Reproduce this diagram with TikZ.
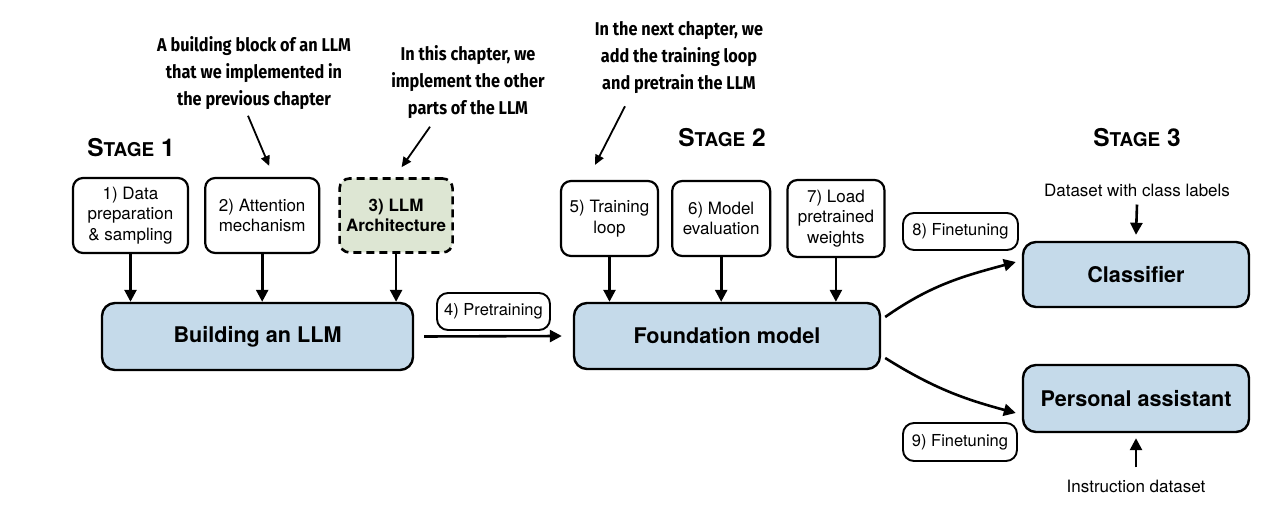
\documentclass[tikz,border=0pt]{standalone}
\usepackage{fontspec}
\setmainfont{TeX Gyre Heros}
\newfontfamily\notefont[FakeStretch=0.88]{Fira Sans}
\usepackage{tikz}
\usetikzlibrary{positioning, arrows.meta}

\definecolor{llmblue}{RGB}{197,218,234}
\definecolor{archgreen}{RGB}{221,230,211}
\newcommand{\stagename}[1]{S{\fontsize{19}{19}\selectfont TAGE} #1}

\begin{document}
\begin{tikzpicture}[
        x = 1pt, y = -1pt,
        every node/.style = {
            align = center,
            inner sep = 2pt
        },
        stepbox/.style = {
            draw,
            line width = 2.2pt,
            rounded corners = 10pt,
            fill = white,
            inner sep = 0pt,
            font = \fontsize{17}{20.5}\selectfont
        },
        archbox/.style = {
            stepbox,
            dash pattern = on 8pt off 5pt,
            line width = 2.6pt,
            fill = archgreen,
            font = \fontsize{17}{20.5}\selectfont\bfseries
        },
        modelbox/.style = {
            draw,
            line width = 2.4pt,
            rounded corners = 13pt,
            fill = llmblue,
            font = \fontsize{21.6}{24}\selectfont\bfseries
        },
        tagbox/.style = {
            draw,
            line width = 1.9pt,
            rounded corners = 11pt,
            font = \fontsize{16.5}{19}\selectfont
        },
        note/.style = {
            font = \notefont\bfseries\fontsize{18.5}{27}\selectfont
        },
        stagelabel/.style = {
            font = \fontsize{24.5}{24.5}\selectfont\bfseries
        },
        datalabel/.style = {
            font = \fontsize{17}{20}\selectfont
        },
        arr/.style = {-{Triangle[length = 12pt, width = 12pt]}, line width = 2.6pt},
        pointer/.style = {-{Triangle[length = 10pt, width = 9pt]}, line width = 1.8pt}
    ]
        \useasboundingbox (0,0) rectangle (1285,510);

        % stage 1
        \node[stagelabel] (stage1) at (131,148) {\stagename{1}};
        \node[stepbox, minimum width = 115pt, minimum height = 75pt] (data) at (130.5,215.5) {
            1) Data \\ preparation \\ \& sampling
        };
        \node[stepbox, minimum width = 114pt, minimum height = 75pt, right = 15pt of data] (attn) {
            2) Attention \\ mechanism
        };
        \node[archbox, minimum width = 113pt, minimum height = 74pt, right = 18pt of attn] (arch) {
            3) LLM \\ Architecture
        };
        \node[modelbox, minimum width = 311pt, minimum height = 67pt] (build) at (257.5,336.5) {Building an LLM};

        % stage 2
        \node[stagelabel] (stage2) at (722,138) {\stagename{2}};
        \node[stepbox, minimum width = 97pt, minimum height = 75pt] (train) at (609.5,218.5) {
            5) Training \\ loop
        };
        \node[stepbox, minimum width = 98pt, minimum height = 75pt, right = 12pt of train] (eval) {
            6) Model \\ evaluation
        };
        \node[stepbox, minimum width = 97pt, minimum height = 77pt, right = 15pt of eval] (load) {
            7) Load \\ pretrained \\ weights
        };
        \node[modelbox, minimum width = 306pt, minimum height = 66pt] (found) at (727,336) {Foundation model};
        \node[tagbox, minimum width = 113pt, minimum height = 37pt] (pretrain) at (493.5,311.5) {4) Pretraining};

        % stage 3
        \node[stagelabel] (stage3) at (1137,138) {\stagename{3}};
        \node[datalabel] (classdata) at (1137,190) {Dataset with class labels};
        \node[modelbox, minimum width = 226pt, minimum height = 65pt] (classifier) at (1136,274.5) {Classifier};
        \node[modelbox, minimum width = 226pt, minimum height = 67pt] (assistant) at (1136,398.5) {Personal assistant};
        \node[datalabel] (instrdata) at (1136,486) {Instruction dataset};
        \node[tagbox, minimum width = 115pt, minimum height = 37pt] (finetune1) at (960.5,231.5) {8) Finetuning};
        \node[tagbox, minimum width = 114pt, minimum height = 38pt] (finetune2) at (960,442) {9) Finetuning};

        % notes
        \node[note] (prevnote) at (254,73) {
            A building block of an LLM \\ that we implemented in \\ the previous chapter
        };
        \node[note] (thisnote) at (468,82) {
            In this chapter, we \\ implement the other \\ parts of the LLM
        };
        \node[note] (nextnote) at (679,58) {
            In the next chapter, we \\ add the training loop \\ and pretrain the LLM
        };

        % connectors
        \foreach \step in {data, attn, arch} {
            \draw[arr] (\step.south) -- (\step.south |- build.north);
        }
        \foreach \step in {train, eval, load} {
            \draw[arr] (\step.south) -- (\step.south |- found.north);
        }
        \draw[arr] ([xshift = 10pt]build.east) -- ([xshift = -11pt]found.west);
        \draw[arr] ([shift = {(4,-19)}]found.east) to[out = 35, in = 195] ([shift = {(-6,-12.5)}]classifier.west);
        \draw[arr] ([shift = {(4,22)}]found.east) to[out = -32, in = 165] ([shift = {(-6,14.5)}]assistant.west);
        \draw[arr] ([shift = {(0,6)}]classdata.south) -- ([shift = {(0,-6)}]classifier.north);
        \draw[arr] ([shift = {(0,-10)}]instrdata.north) -- ([shift = {(0,5)}]assistant.south);

        \draw[pointer] ([shift = {(-6,4)}]prevnote.south) -- ([shift = {(7,-11)}]attn.north);
        \draw[pointer] ([shift = {(-38,6)}]thisnote.south) -- ([shift = {(5.5,-10)}]arch.north);
        \draw[pointer] ([shift = {(-54,10)}]nextnote.south) -- ([shift = {(-14.5,-15)}]train.north);
    \end{tikzpicture}
\end{document}
